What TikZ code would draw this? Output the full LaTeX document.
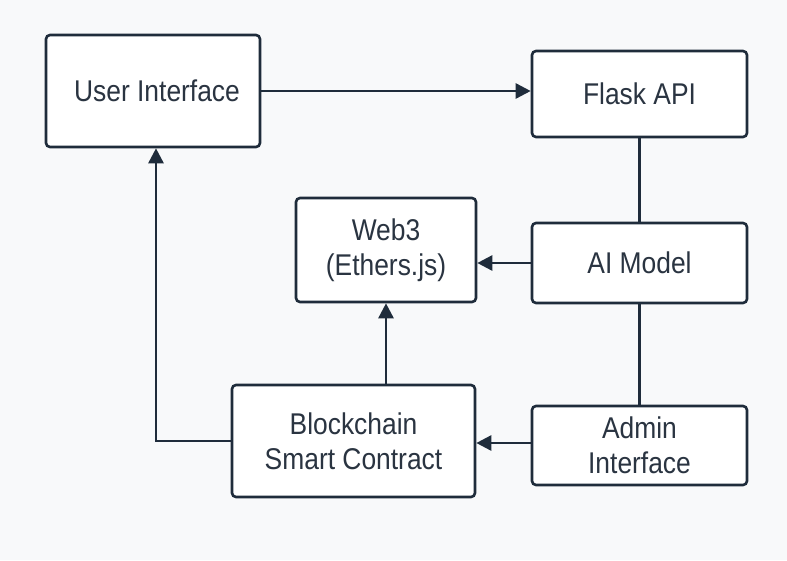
\documentclass[tikz,border=0pt]{standalone}
\usepackage{fontspec}
\setmainfont{Liberation Sans}[FakeStretch=0.88]
\usetikzlibrary{arrows.meta}
\definecolor{ink}{HTML}{1F2C3B}
\definecolor{txt}{HTML}{2A3441}
\definecolor{bg}{HTML}{F8F9FA}
\tikzset{
  box/.style={draw=ink, line width=2.6pt, rounded corners=4pt, fill=white,
    text=txt, font=\fontsize{30}{35}\selectfont, align=center,
    inner sep=0pt, anchor=center},
  conn/.style={draw=ink, line width=2.6pt},
  arr/.style={conn, -{Triangle[length=15pt,width=15pt]}}
}
\begin{document}
\begin{tikzpicture}[x=1pt,y=-1pt]
\fill[bg] (0,0) rectangle (787,560);
\useasboundingbox (0,0) rectangle (787,560);
\node[box, minimum width=214pt, minimum height=112pt] (ui) at (153,91) {\hspace{8pt}User Interface};
\node[box, minimum width=215pt, minimum height=86pt] (flask) at (639.5,94) {Flask API};
\node[box, minimum width=180pt, minimum height=104pt] (web3) at (386,250) {Web3\\(Ethers.js)};
\node[box, minimum width=215pt, minimum height=80pt] (ai) at (639.5,263) {AI Model};
\node[box, minimum width=243pt, minimum height=112pt] (block) at (353.5,441) {Blockchain\\Smart Contract};
\node[box, minimum width=215pt, minimum height=79pt] (admin) at (639.5,445.5) {Admin\\Interface};
\draw[arr] (ui.east) -- (ui.east -| flask.west);
\draw[conn] (flask.south) -- (ai.north);
\draw[conn] (ai.south) -- (admin.north);
\draw[arr] (ai.west) -- (ai.west -| web3.east);
\draw[arr] ([yshift=2.5pt]admin.west) -- ([yshift=2.5pt]admin.west -| block.east);
\draw[arr] (web3.south |- block.north) -- (web3.south);
\draw[arr] (block.west) -- ([xshift=3pt]block.west -| ui.south) -- ([xshift=3pt]ui.south);
\end{tikzpicture}
\end{document}
